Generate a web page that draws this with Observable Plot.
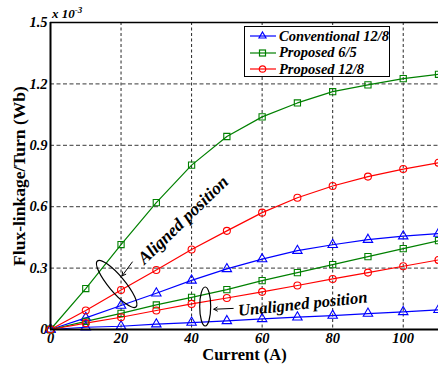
<!DOCTYPE html>
<html><head><meta charset="utf-8">
<script src="https://cdn.jsdelivr.net/npm/d3@7"></script>
<script src="https://cdn.jsdelivr.net/npm/@observablehq/plot@0.6"></script>
<style>
body{margin:0;background:#fff;}
#wrap{position:relative;width:438px;height:369px;overflow:hidden;font-family:'Liberation Serif','Times New Roman',serif;}
.lg{position:absolute;left:244px;top:26px;width:144px;height:49px;border:1.5px solid #000;background:#fff;}
.row{position:absolute;left:5px;height:16px;display:flex;align-items:center;font-family:'Liberation Serif';font-weight:bold;font-style:italic;font-size:14.5px;white-space:nowrap;}
.row svg{margin-right:3px;}
.exp{position:absolute;left:52px;top:5px;font-family:'Liberation Serif';font-weight:bold;font-style:italic;font-size:13px;}
</style></head>
<body><div id="wrap"></div>
<script>
const current = [0,10,20,30,40,50,60,70,80,90,100,110];
const conv128Aligned   = [0,0.057,0.117,0.177,0.240,0.296,0.344,0.385,0.414,0.439,0.456,0.469];
const prop65Aligned    = [0,0.200,0.415,0.620,0.803,0.943,1.039,1.107,1.162,1.195,1.226,1.247];
const prop128Aligned   = [0,0.093,0.193,0.291,0.391,0.482,0.571,0.644,0.701,0.747,0.784,0.815];
const conv128Unaligned = [0,0.011,0.016,0.026,0.034,0.042,0.052,0.060,0.068,0.078,0.086,0.096];
const prop65Unaligned  = [0,0.040,0.079,0.120,0.157,0.195,0.239,0.278,0.317,0.356,0.395,0.434];
const prop128Unaligned = [0,0.031,0.060,0.093,0.125,0.154,0.184,0.215,0.247,0.278,0.309,0.340];
const seriesNames = ["Conventional 12/8","Proposed 6/5","Proposed 12/8"];
const seriesColors = ["#0000ff","#008000","#ff0000"];
const seriesSymbols = ["triangle","square","circle"];
const yTicks = [0,0.3,0.6,0.9,1.2,1.5];
const xTicks = [0,20,40,60,80,100];

const curves = [
  {name:seriesNames[0], vals:conv128Aligned},
  {name:seriesNames[1], vals:prop65Aligned},
  {name:seriesNames[2], vals:prop128Aligned},
  {name:seriesNames[0], vals:conv128Unaligned},
  {name:seriesNames[1], vals:prop65Unaligned},
  {name:seriesNames[2], vals:prop128Unaligned}
];
const rows = [];
curves.forEach((c,ci)=>current.forEach((x,i)=>rows.push({curve:ci, series:c.name, x, y:c.vals[i]})));

// annotations in data coordinates
const ellipses = [
  {x:18.9, y:0.22, rx:8, ry:30, rot:-40},
  {x:44.0, y:0.11, rx:5.5, ry:19.5, rot:0}
];
const arrows = [
  {x1:23.2, y1:0.33, x2:20.3, y2:0.262},
  {x1:51.8, y1:0.103, x2:46.3, y2:0.099}
];
const notes = [
  {x:37.6, y:0.535, text:"Aligned position", rotate:-44, size:17.5},
  {x:71.5, y:0.125, text:"Unaligned position", rotate:-6, size:16.5}
];

const serif = "'Liberation Serif', 'Times New Roman', serif";
const ellipseMark = (index, scales, values, dims, context) => {
  const g = d3.create("svg:g");
  for (const e of ellipses) {
    const cx = scales.x(e.x), cy = scales.y(e.y);
    g.append("ellipse").attr("cx",cx).attr("cy",cy).attr("rx",e.rx).attr("ry",e.ry)
     .attr("transform",`rotate(${e.rot},${cx},${cy})`)
     .attr("fill","none").attr("stroke","#000").attr("stroke-width",1.2);
  }
  return g.node();
};

const chart = Plot.plot({
  width:438, height:369,
  marginLeft:50, marginRight:0, marginTop:22, marginBottom:40,
  style:{fontFamily:serif, fontSize:"14.5px", fontWeight:"bold", fontStyle:"italic", background:"#fff", overflow:"hidden"},
  x:{domain:[0,110], ticks:xTicks, tickSize:0, tickPadding:3, label:null},
  y:{domain:[0,1.5], ticks:yTicks, tickSize:0, tickPadding:3, label:null, tickFormat:d=>d===0?"0":d.toFixed(1)},
  color:{domain:seriesNames, range:seriesColors},
  symbol:{domain:seriesNames, range:seriesSymbols},
  marks:[
    Plot.gridX(xTicks.filter(d=>d>0), {stroke:"#000", strokeOpacity:0.85, strokeDasharray:"3,2.5"}),
    Plot.gridY(yTicks.filter(d=>d>0 && d<1.5), {stroke:"#444", strokeOpacity:0.85, strokeDasharray:"4,2.5", strokeWidth:1.2}),
    Plot.ruleY([1.5], {stroke:"#000", strokeWidth:1.5}),
    Plot.line(rows, {x:"x", y:"y", z:"curve", stroke:"series", strokeWidth:1.2}),
    Plot.dot(rows, {x:"x", y:"y", stroke:"series", symbol:"series", r:3.5, fill:"none", strokeWidth:1.1}),
    Plot.ruleX([0], {stroke:"#000", strokeWidth:2}),
    Plot.ruleY([0], {stroke:"#000", strokeWidth:2}),
    ellipseMark,
    Plot.arrow(arrows, {x1:"x1", y1:"y1", x2:"x2", y2:"y2", stroke:"#000", strokeWidth:1, headLength:6}),
    Plot.text(notes, {x:"x", y:"y", text:"text", rotate:"rotate", fontSize:"size", fontFamily:serif, fontWeight:"bold", fontStyle:"italic", fill:"#000"}),
    Plot.text(["Current (A)"], {frameAnchor:"bottom", lineAnchor:"middle", textAnchor:"middle", dy:25, fontSize:16.5, fontFamily:serif, fontWeight:"bold", fontStyle:"normal", fill:"#000"}),
    Plot.text(["Flux-linkage/Turn (Wb)"], {frameAnchor:"left", textAnchor:"middle", lineAnchor:"middle", dx:-31, rotate:-90, fontSize:17.5, fontFamily:serif, fontWeight:"bold", fontStyle:"normal", fill:"#000"})
  ]
});
const wrap = document.getElementById("wrap");
wrap.appendChild(chart);

const exp = document.createElement("div");
exp.className = "exp";
exp.innerHTML = "x 10<sup style='font-size:9px'>-3</sup>";
wrap.appendChild(exp);

const lg = document.createElement("div");
lg.className = "lg";
seriesNames.forEach((n,i)=>{
  const r = document.createElement("div");
  r.className = "row";
  r.style.top = (1 + i*16.5) + "px";
  const c = seriesColors[i];
  let sym = "";
  if (i===0) sym = `<polygon points="12.5,4 16,10 9,10" fill="none" stroke="${c}" stroke-width="1.2"/>`;
  if (i===1) sym = `<rect x="9.5" y="5" width="6" height="6" fill="none" stroke="${c}" stroke-width="1.2"/>`;
  if (i===2) sym = `<circle cx="12.5" cy="8" r="3.2" fill="none" stroke="${c}" stroke-width="1.2"/>`;
  r.innerHTML = `<svg width="26" height="16"><line x1="0" y1="8" x2="26" y2="8" stroke="${c}" stroke-width="1.2"/>${sym}</svg><span>${n}</span>`;
  lg.appendChild(r);
});
wrap.appendChild(lg);
</script></body></html>
